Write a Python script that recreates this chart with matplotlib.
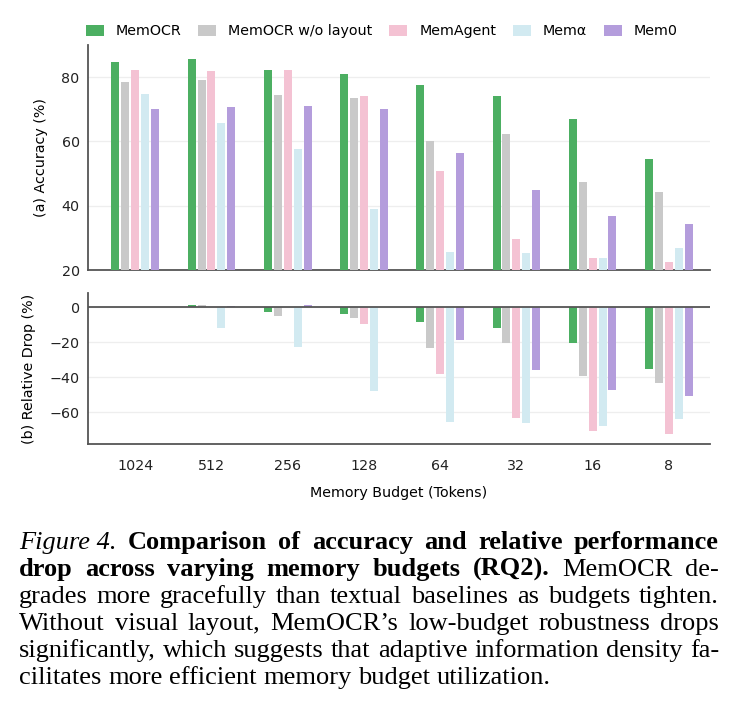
import numpy as np
import matplotlib
matplotlib.use("Agg")
import matplotlib.pyplot as plt

# data
budgets = ["1024", "512", "256", "128", "64", "32", "16", "8"]
methods = ["MemOCR", "MemOCR w/o layout", "MemAgent", "Memα", "Mem0"]
colors = ["#4caf62", "#c9c9c9", "#f4c2d3", "#d2eaf1", "#b49ddc"]

acc_memocr = [84.7, 85.8, 82.1, 80.9, 77.5, 74.1, 67.1, 54.4]
acc_nolayout = [78.4, 79.2, 74.3, 73.6, 60.0, 62.3, 47.5, 44.3]
acc_memagent = [82.2, 82.0, 82.2, 74.1, 50.7, 29.7, 23.8, 22.5]
acc_memalpha = [74.8, 65.8, 57.7, 38.9, 25.6, 25.2, 23.8, 26.9]
acc_mem0 = [70.2, 70.7, 71.0, 70.2, 56.5, 44.8, 36.9, 34.2]

drop_memocr = [0.0, 1.2, -2.9, -4.2, -8.4, -12.2, -20.6, -35.2]
drop_nolayout = [0.0, 0.9, -5.0, -6.1, -23.2, -20.2, -39.2, -43.0]
drop_memagent = [0.0, -0.2, 0.0, -9.5, -38.1, -63.4, -70.5, -72.2]
drop_memalpha = [0.0, -11.8, -22.7, -47.6, -65.3, -66.1, -67.8, -63.6]
drop_mem0 = [0.0, 0.5, 1.1, 0.0, -19.0, -35.6, -47.0, -50.7]

acc = [acc_memocr, acc_nolayout, acc_memagent, acc_memalpha, acc_mem0]
drop = [drop_memocr, drop_nolayout, drop_memagent, drop_memalpha, drop_mem0]

W, H = 740, 724
fig = plt.figure(figsize=(W / 100, H / 100), dpi=100)
plt.rcParams['font.family'] = ['DejaVu Sans']

ax1 = fig.add_axes([88 / W, 1 - 270 / H, 622 / W, 225 / H])
ax2 = fig.add_axes([88 / W, 1 - 444 / H, 622 / W, 151 / H])

x = np.arange(len(budgets))
pitch = 0.13
bw = 0.105
spine_c = "#555555"
fs = 10.3

for i, m in enumerate(methods):
    ax1.bar(x + (i - 2) * pitch, np.array(acc[i]) - 20, bw, bottom=20,
            color=colors[i], label=m, zorder=3)
    ax2.bar(x + (i - 2) * pitch, drop[i], bw, color=colors[i], zorder=3)

for ax in (ax1, ax2):
    ax.set_xlim(-0.62, 7.54)
    for s in ("top", "right"):
        ax.spines[s].set_visible(False)
    for s in ("left", "bottom"):
        ax.spines[s].set_color(spine_c)
        ax.spines[s].set_linewidth(1.3)
    ax.tick_params(length=0, labelsize=fs, colors="#222222", pad=6)
    ax.yaxis.grid(True, color="#eeeeee", lw=0.9, zorder=0)
    ax.set_axisbelow(True)

ax1.set_ylim(20, 90)
ax1.set_yticks([20, 40, 60, 80])
ax1.set_xticks([])
ax1.set_ylabel("(a) Accuracy (%)", fontsize=fs, labelpad=10)

ax2.set_ylim(-78, 8)
ax2.set_yticks([-60, -40, -20, 0])
ax2.set_yticklabels(["\u221260", "\u221240", "\u221220", "0"])
ax2.axhline(0, color=spine_c, lw=1.3, zorder=4)
ax2.set_xticks(x)
ax2.set_xticklabels(budgets)
ax2.tick_params(axis="x", pad=11)
ax2.set_ylabel("(b) Relative Drop (%)", fontsize=fs, labelpad=10)
ax2.set_xlabel("Memory Budget (Tokens)", fontsize=fs, labelpad=9)

ax1.legend(loc="lower left", bbox_to_anchor=(80 / W, 1 - 44 / H),
           bbox_transform=fig.transFigure, ncol=5, frameon=False,
           fontsize=fs, handlelength=1.26, handleheight=0.85,
           columnspacing=1.15, handletextpad=0.85, borderaxespad=0)

# caption, justified line by line
cap_lines = [
    ([("Figure 4.", "it")] + [(w, "bf") for w in "Comparison of accuracy and relative performance".split()], True),
    ([(w, "bf") for w in "drop across varying memory budgets (RQ2).".split()] + [("MemOCR", "rm"), ("de-", "rm")], True),
    ([(w, "rm") for w in "grades more gracefully than textual baselines as budgets tighten.".split()], True),
    ([(w, "rm") for w in "Without visual layout, MemOCR\u2019s low-budget robustness drops".split()], True),
    ([(w, "rm") for w in "significantly, which suggests that adaptive information density fa-".split()], True),
    ([(w, "rm") for w in "cilitates more efficient memory budget utilization.".split()], False),
]
cap_size = 19
x0, x1 = 19, 719
renderer = fig.canvas.get_renderer()
for li, (words, justify) in enumerate(cap_lines):
    yb = 1 - (549 + 27 * li) / H
    texts = []
    for w, st in words:
        kw = dict(family="Liberation Serif", fontsize=cap_size, va="baseline", ha="left")
        if st == "it":
            kw["style"] = "italic"
        if st == "bf":
            kw["weight"] = "bold"
        texts.append(fig.text(0, yb, w, **kw))
    widths = [t.get_window_extent(renderer).width for t in texts]
    if justify:
        gap = (x1 - x0 - sum(widths)) / (len(texts) - 1)
    else:
        gap = cap_size * 1.389 * 0.25
    cx = x0
    for t, wd in zip(texts, widths):
        t.set_x(cx / W)
        cx += wd + gap

fig.savefig("out.png", dpi=100)
